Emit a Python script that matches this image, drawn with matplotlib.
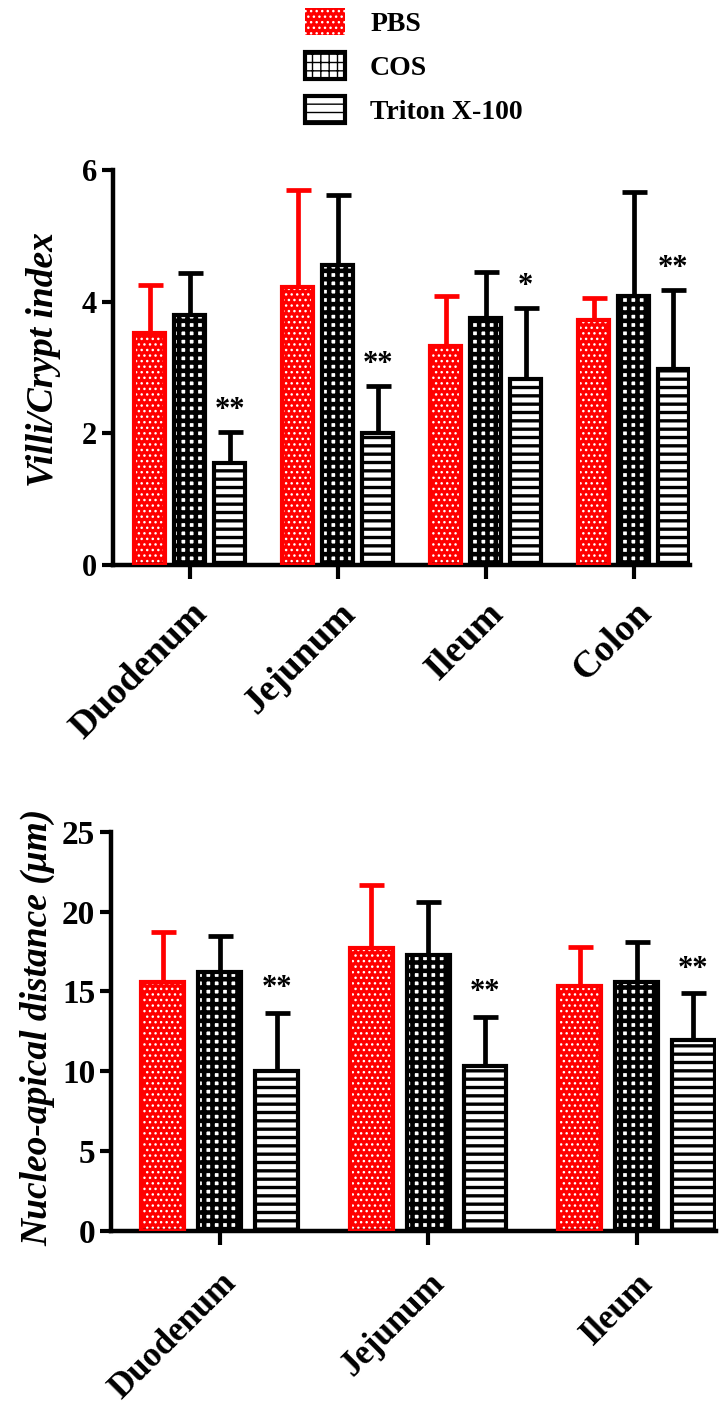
"""Two grouped bar charts (villi/crypt index, nucleo-apical distance) with hatched bars."""

import matplotlib

matplotlib.use("Agg")

import matplotlib.pyplot as plt
import numpy as np
from matplotlib.patches import Patch

# --- data -------------------------------------------------------------------
series = ["PBS", "COS", "Triton X-100"]

top_segments = ["Duodenum", "Jejunum", "Ileum", "Colon"]
top_mean = {
    "PBS": [3.52, 4.22, 3.33, 3.72],
    "COS": [3.80, 4.55, 3.75, 4.08],
    "Triton X-100": [1.55, 2.00, 2.82, 2.97],
}
top_upper = {
    "PBS": [4.25, 5.70, 4.08, 4.05],
    "COS": [4.44, 5.62, 4.45, 5.66],
    "Triton X-100": [2.02, 2.72, 3.90, 4.18],
}
top_sig = ["**", "**", "*", "**"]

bottom_segments = ["Duodenum", "Jejunum", "Ileum"]
bottom_mean = {
    "PBS": [15.6, 17.7, 15.35],
    "COS": [16.2, 17.3, 15.6],
    "Triton X-100": [10.0, 10.3, 11.95],
}
bottom_upper = {
    "PBS": [18.7, 21.7, 17.75],
    "COS": [18.5, 20.6, 18.1],
    "Triton X-100": [13.65, 13.4, 14.9],
}
bottom_sig = ["**", "**", "**"]

# --- style ------------------------------------------------------------------
RED = "#ff0000"
styles = {
    "PBS": dict(face=RED, hatch_color="white", hatch="...", edge=RED, hlw=1.0),
    "COS": dict(face="white", hatch_color="black", hatch="++", edge="black", hlw=3.3),
    "Triton X-100": dict(face="white", hatch_color="black", hatch="--", edge="black", hlw=2.4),
}
SERIF = ["Liberation Serif", "DejaVu Serif"]
plt.rcParams["font.family"] = SERIF
plt.rcParams["font.weight"] = "bold"


def hatched_bar(ax, pos, vals, width, st):
    """Bar filled with a hatch in its own colour, then a thick outline on top."""
    with plt.rc_context({"hatch.linewidth": st["hlw"]}):
        bars = ax.bar(pos, vals, width, color=st["face"], edgecolor=st["hatch_color"],
                      hatch=st["hatch"], linewidth=0, zorder=2)
        for b in bars:
            if hasattr(b, "set_hatch_linewidth"):
                b.set_hatch_linewidth(st["hlw"])
    ax.bar(pos, vals, width, fill=False, edgecolor=st["edge"], linewidth=3, zorder=3)


def draw_panel(ax, segments, means, uppers, sig, width, step, sig_offset,
               ylim, yticks, ylabel, tick_size, label_size, ylabel_size, xpad):
    x = np.arange(len(segments))
    for i, name in enumerate(series):
        st = styles[name]
        pos = x + (i - 1) * step
        vals = np.array(means[name])
        up = np.array(uppers[name])
        ax.errorbar(pos, vals, yerr=[np.zeros_like(vals), up - vals], fmt="none",
                    ecolor=st["edge"], elinewidth=3.4, capsize=9, capthick=3.4,
                    zorder=1)
        hatched_bar(ax, pos, vals, width, st)
    tri_pos = x + step
    for xi, up, s in zip(tri_pos, uppers["Triton X-100"], sig):
        ax.text(xi, up + sig_offset, s, ha="center", va="center",
                fontsize=22, fontweight="bold")

    ax.set_xlim(-0.52, len(segments) - 1 + 0.38)
    ax.set_ylim(*ylim)
    ax.set_yticks(yticks)
    ax.set_xticks(x)
    ax.set_xticklabels(segments, rotation=45, ha="right", rotation_mode="anchor",
                       fontsize=label_size, fontweight="bold")
    ax.tick_params(axis="y", labelsize=tick_size, width=3, length=8)
    ax.tick_params(axis="x", width=3, length=10, pad=xpad)
    for lab in ax.get_yticklabels():
        lab.set_fontweight("bold")
    ax.set_ylabel(ylabel, fontsize=ylabel_size, fontweight="bold",
                  fontstyle="italic")
    for side in ("top", "right"):
        ax.spines[side].set_visible(False)
    for side in ("left", "bottom"):
        ax.spines[side].set_linewidth(3.2)


fig = plt.figure(figsize=(7.23, 14.16), dpi=100)

ax_top = fig.add_axes([0.156, 0.601, 0.798, 0.279])
draw_panel(ax_top, top_segments, top_mean, top_upper, top_sig,
           width=0.21, step=0.27, sig_offset=0.33, ylim=(0, 6),
           yticks=[0, 2, 4, 6], ylabel="Villi/Crypt index",
           tick_size=22, label_size=27, ylabel_size=27, xpad=12)
ax_top.yaxis.set_label_coords(-0.09, 0.52)

ax_bot = fig.add_axes([0.154, 0.131, 0.836, 0.2815])
draw_panel(ax_bot, bottom_segments, bottom_mean, bottom_upper, bottom_sig,
           width=0.205, step=0.273, sig_offset=1.5, ylim=(0, 25),
           yticks=[0, 5, 10, 15, 20, 25], ylabel="Nucleo-apical distance (\u03bcm)",
           tick_size=24, label_size=25, ylabel_size=27, xpad=16)
ax_bot.yaxis.set_label_coords(-0.093, 0.51)

handles = []
for n in series:
    st = styles[n]
    with plt.rc_context({"hatch.linewidth": st["hlw"]}):
        if n == "PBS":
            h = Patch(facecolor=st["face"], edgecolor=st["hatch_color"],
                      hatch=st["hatch"], linewidth=0)
        else:
            h = Patch(facecolor="white", edgecolor="black", hatch=st["hatch"],
                      linewidth=3)
        if hasattr(h, "set_hatch_linewidth"):
            h.set_hatch_linewidth(st["hlw"])
    handles.append(h)

fig.legend(handles, series, loc="upper left", bbox_to_anchor=(0.387, 1.012),
           frameon=False, handlelength=1.45, handleheight=1.1,
           labelspacing=0.55, handletextpad=0.9,
           prop=dict(family=SERIF, weight="bold", size=20))

fig.savefig("out.png", dpi=100)
